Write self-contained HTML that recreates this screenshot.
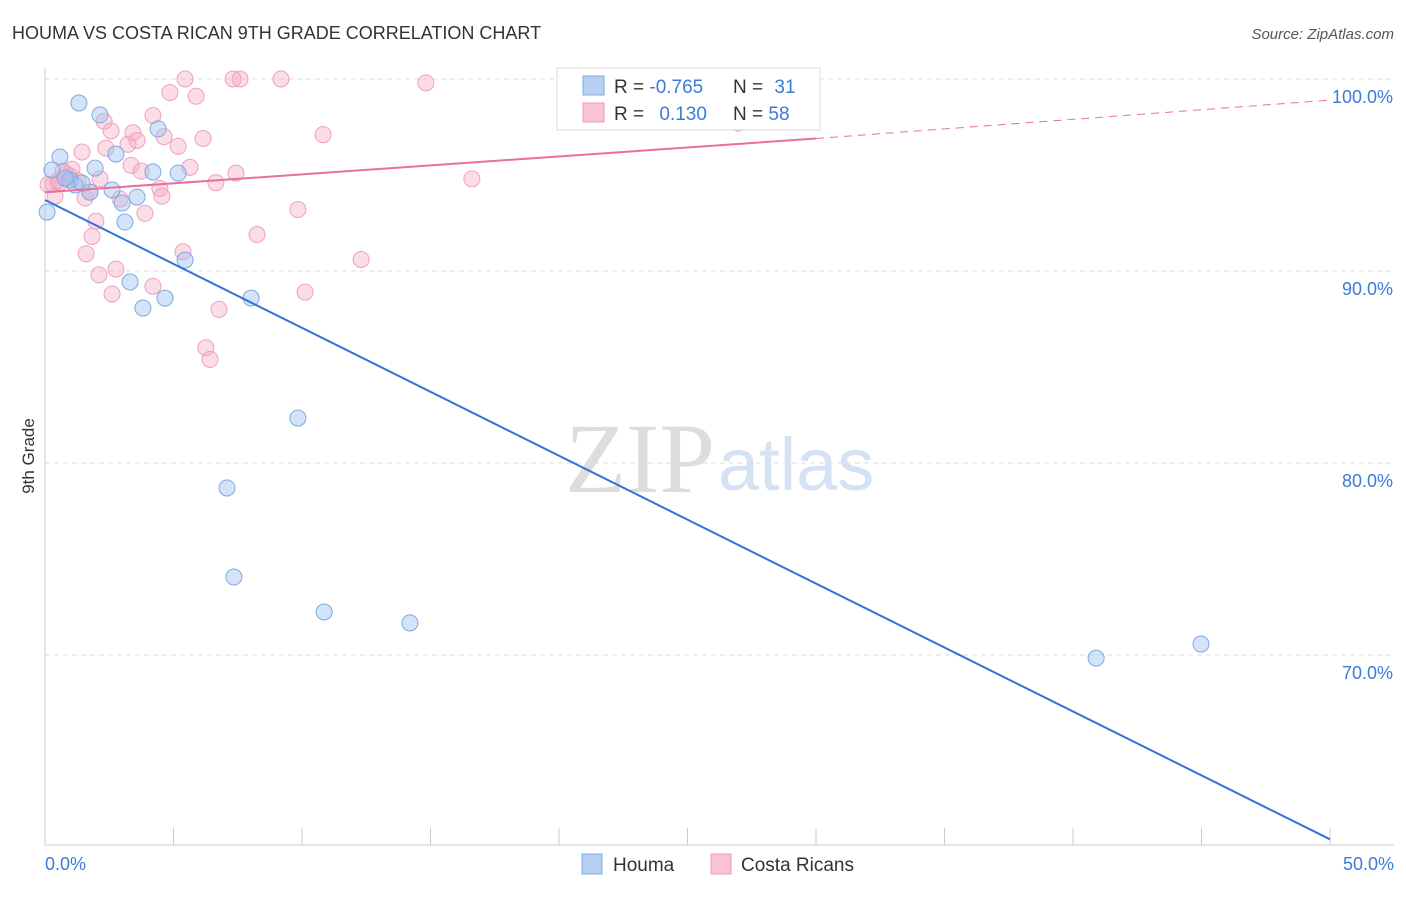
<!DOCTYPE html>
<html><head><meta charset="utf-8"><style>
body{margin:0;background:#fff;font-family:"Liberation Sans",sans-serif;}
svg text{font-family:"Liberation Sans",sans-serif;}
</style></head><body>
<svg id="chart" width="1406" height="892">
<text x="12" y="39" font-size="18" fill="#333">HOUMA VS COSTA RICAN 9TH GRADE CORRELATION CHART</text>
<text x="1394" y="39" font-size="15" fill="#555" font-style="italic" text-anchor="end">Source: ZipAtlas.com</text>
<text x="34" y="456" font-size="17" fill="#333" transform="rotate(-90 34 456)" text-anchor="middle">9th Grade</text>
<text x="715" y="492" font-size="100" fill="#ddd" text-anchor="end" style="font-family:'Liberation Serif',serif">ZIP</text>
<text x="718" y="490" font-size="74" fill="#d5e2f3">atlas</text>
<g id="grid"></g><g id="pts"></g><g id="lines"></g>
<g>
<rect x="557" y="68" width="263" height="62" fill="#fff" stroke="#ddd"/>
<rect x="583" y="76" width="21" height="19" fill="#b8d1f3" stroke="#7fa9e3"/>
<rect x="583" y="103" width="21" height="19" fill="#f9c3d3" stroke="#f09ab6"/>
<text x="614" y="93" font-size="19" fill="#333">R = <tspan fill="#3d7bd9">-0.765</tspan></text>
<text x="733" y="93" font-size="19" fill="#333">N = <tspan fill="#3d7bd9" dx="6">31</tspan></text>
<text x="614" y="120" font-size="19" fill="#333">R = <tspan fill="#3d7bd9" dx="10">0.130</tspan></text>
<text x="733" y="120" font-size="19" fill="#333">N = <tspan fill="#3d7bd9">58</tspan></text>
</g>
<g>
<rect x="582" y="854" width="20" height="20" fill="#b8d1f3" stroke="#7fa9e3"/>
<text x="613" y="871" font-size="19" fill="#333">Houma</text>
<rect x="711" y="854" width="20" height="20" fill="#f9c3d3" stroke="#f09ab6"/>
<text x="741" y="871" font-size="19" fill="#333">Costa Ricans</text>
</g>
</svg>
<script>
const yTicks=[100,90,80,70];
const xTickLabels=["0.0%","50.0%"];
const houmaX=[1.32,2.14,0.58,0.27,0.08,1.95,1.17,1.75,2.61,2.76,3.11,3.58,4.40,4.20,5.18,3.0,0.97,0.78,3.31,3.81,4.67,5.45,8.02,9.84,7.08,7.35,10.86,14.20,40.90,44.98,1.44];
const houmaY=[98.75,98.13,95.94,95.26,93.07,95.36,94.48,94.11,94.22,96.09,92.55,93.85,97.40,95.16,95.10,93.54,94.74,94.84,89.43,88.07,88.59,90.57,88.59,82.34,78.70,74.06,72.24,71.67,69.84,70.57,94.58];
const costaX=[5.45,7.59,7.32,9.18,14.82,4.86,5.88,4.20,2.30,2.57,3.42,4.63,3.58,10.82,6.15,26.97,5.18,3.23,2.37,1.44,3.35,5.64,3.74,1.05,7.43,0.70,6.65,16.61,0.31,1.28,4.47,1.75,0.39,4.55,2.92,9.84,3.89,1.98,1.83,8.25,5.37,1.60,12.30,2.76,2.10,4.20,10.12,2.61,6.77,6.26,6.42,0.82,0.12,0.58,2.14,1.56,0.97,0.5];
const costaY=[100,100,100,100,99.8,99.3,99.1,98.1,97.8,97.3,97.2,97.0,96.8,97.1,96.9,97.7,96.5,96.6,96.4,96.2,95.5,95.4,95.2,95.3,95.1,95.2,94.6,94.8,94.5,94.7,94.3,94.1,93.9,93.9,93.75,93.2,93.0,92.6,91.8,91.9,91.0,90.9,90.6,90.1,89.8,89.2,88.9,88.8,88.0,86.0,85.4,95.05,94.5,94.6,94.8,93.8,94.95,94.7];
const houmaTrend=[93.7,60.4];
const costaTrend=[94.1,96.9,98.9];
const sx=v=>45+v/50*1285, sy=v=>79+(100-v)*19.2;
const NS="http://www.w3.org/2000/svg";
function mk(t,a,p){const e=document.createElementNS(NS,t);for(const k in a)e.setAttribute(k,a[k]);p.appendChild(e);return e;}
const g=document.getElementById('grid');
yTicks.forEach(t=>{
 const l=mk('line',{x1:45,x2:1394,y1:sy(t),y2:sy(t),stroke:'#ddd','stroke-dasharray':'5,4'},g);
 
 
 const tx=mk('text',{x:1393,y:sy(t)+24,'font-size':18,fill:'#3d7bd9','text-anchor':'end'},g);tx.textContent=t.toFixed(1)+'%';
 
 
});
const ax=mk('line',{x1:45,x2:45,y1:68,y2:845,stroke:'#ccc'},g);


const bx=mk('line',{x1:45,x2:1394,y1:845,y2:845,stroke:'#ccc'},g);


for(let i=0;i<=10;i++){const x=sx(i*5);const t=mk('line',{x1:x,x2:x,y1:828,y2:845,stroke:'#ccc'},g);
 
 }
[[0,'start',45],[1,'end',1394]].forEach(([i,a,x])=>{const t=mk('text',{x:x,y:870,'font-size':18,fill:'#3d7bd9','text-anchor':a},g);t.textContent=xTickLabels[i];
 
 });
const p=document.getElementById('pts');
costaX.forEach((x,i)=>{const c=mk('circle',{cx:sx(x),cy:sy(costaY[i]),r:8,fill:'rgba(245,170,195,0.4)',stroke:'#f0a0bc','stroke-width':1},p);
 
 });
houmaX.forEach((x,i)=>{const c=mk('circle',{cx:sx(x),cy:sy(houmaY[i]),r:8,fill:'rgba(160,195,240,0.45)',stroke:'#7fa9e3','stroke-width':1},p);
 
 });
const L=document.getElementById('lines');
const hl=mk('line',{x1:sx(0),y1:sy(houmaTrend[0]),x2:sx(50),y2:sy(houmaTrend[1]),stroke:'#2f74d9','stroke-width':2},L);


const cl=mk('line',{x1:sx(0),y1:sy(costaTrend[0]),x2:sx(30),y2:sy(costaTrend[1]),stroke:'#e8709a','stroke-width':2},L);


const cd=mk('line',{x1:sx(30),y1:sy(costaTrend[1]),x2:sx(50),y2:sy(costaTrend[2]),stroke:'#e8709a','stroke-width':1,'stroke-dasharray':'8,6'},L);


</script>
</body></html>
